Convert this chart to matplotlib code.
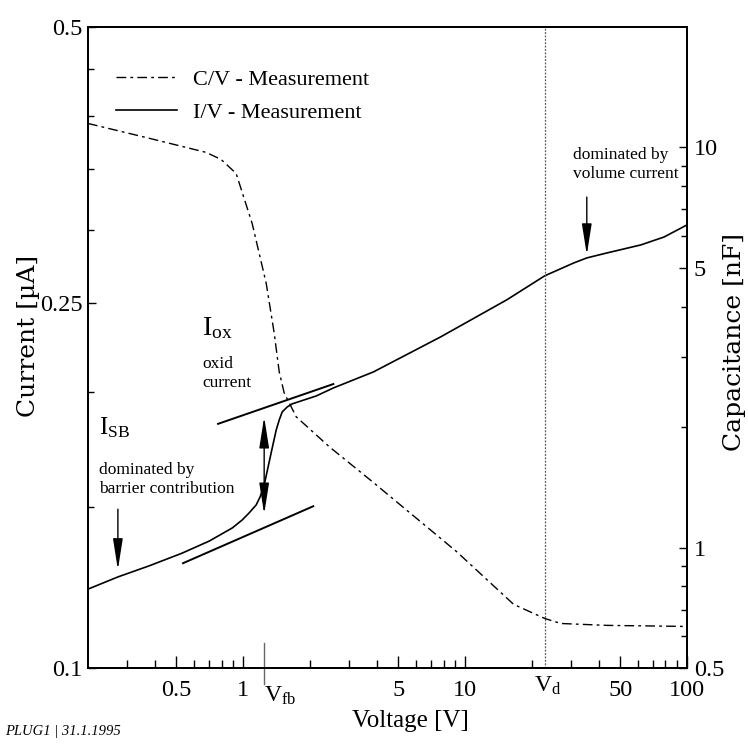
import matplotlib
matplotlib.use('Agg')
import matplotlib.pyplot as plt
from matplotlib.ticker import NullFormatter

plt.rcParams['font.family'] = ['Liberation Serif', 'DejaVu Serif']
plt.rcParams['mathtext.fontset'] = 'custom'
plt.rcParams['mathtext.rm'] = 'Liberation Serif'
plt.rcParams['mathtext.it'] = 'Liberation Serif:italic'

# I/V measurement, current in uA
iv_voltage = [0.2, 0.273, 0.376, 0.530, 0.702, 0.892, 0.990, 1.064, 1.145, 1.193,
              1.244, 1.310, 1.352, 1.409, 1.454, 1.500, 1.580, 1.664, 2.136, 2.549,
              3.863, 7.751, 15.40, 22.85, 30.90, 35.36, 43.5, 61.98, 78.8, 100.0]
iv_current = [0.1219, 0.1257, 0.1292, 0.1334, 0.1375, 0.1421, 0.1450, 0.1476, 0.1506, 0.1537,
              0.1583, 0.1677, 0.1737, 0.1817, 0.1864, 0.1902, 0.1926, 0.1941, 0.1980, 0.2020,
              0.2103, 0.2296, 0.2520, 0.2677, 0.2765, 0.2800, 0.2835, 0.2893, 0.2951, 0.3042]

# C/V measurement, capacitance in nF
cv_voltage = [0.2, 0.365, 0.681, 0.796, 0.930, 1.098, 1.270, 1.380, 1.454, 1.531,
              1.613, 1.735, 2.445, 3.823, 9.155, 16.56, 22.85, 26.99, 43.53, 100.0]
cv_capacitance = [11.48, 10.59, 9.72, 9.33, 8.61, 6.46, 4.58, 3.44, 2.75, 2.435,
                  2.299, 2.122, 1.786, 1.461, 0.977, 0.721, 0.665, 0.646, 0.639, 0.635]

# straight-line fits of the two current contributions
oxide_fit_voltage = [0.771, 2.549]
oxide_fit_current = [0.1846, 0.2040]
barrier_fit_voltage = [0.536, 2.070]
barrier_fit_current = [0.1301, 0.1501]

V_FB = 1.244   # flat band voltage
V_D = 23.0     # depletion voltage

x_major = [0.5, 1, 5, 10, 50, 100]
x_minor = [0.3, 0.4, 0.6, 0.7, 0.8, 0.9, 2, 3, 4, 6, 7, 8, 9, 20, 30, 40, 60, 70, 80, 90]
i_major = [0.1, 0.25, 0.5]
i_minor = [0.15, 0.2, 0.3, 0.35, 0.4, 0.45]
c_major = [0.5, 1, 5, 10]
c_minor = [0.6, 0.7, 0.8, 0.9, 2, 3, 4, 6, 7, 8, 9]

fig = plt.figure(figsize=(7.48, 7.44), dpi=100)
ax = fig.add_axes([88 / 748, 1 - 668 / 744, 599 / 748, 641 / 744])
ax2 = ax.twinx()

ax.set_xscale('log')
ax.set_yscale('log')
ax2.set_yscale('log')
ax.set_xlim(0.2, 100)
ax.set_ylim(0.1, 0.5)
ax2.set_ylim(0.5, 20)

iv_line, = ax.plot(iv_voltage, iv_current, color='black', lw=1.2)
cv_line, = ax2.plot(cv_voltage, cv_capacitance, color='black', lw=1.0,
                    linestyle=(0, (7, 3, 2, 3)))
ax.plot(oxide_fit_voltage, oxide_fit_current, color='black', lw=1.4)
ax.plot(barrier_fit_voltage, barrier_fit_current, color='black', lw=1.4)

ax.axvline(V_D, color='0.35', lw=0.9, linestyle=(0, (1.5, 1.2)))
ax.plot([V_FB, V_FB], [0.039, -0.025], color='0.4', lw=1.0,
        transform=ax.get_xaxis_transform(), clip_on=False)

# ticks
ax.set_xticks(x_major, [f'{v:g}' for v in x_major])
ax.set_xticks(x_minor, minor=True)
ax.set_yticks(i_major, [f'{v:g}' for v in i_major])
ax.set_yticks(i_minor, minor=True)
ax2.set_yticks(c_major, [f'{v:g}' for v in c_major])
ax2.set_yticks(c_minor, minor=True)
for axis in (ax.xaxis, ax.yaxis, ax2.yaxis):
    axis.set_minor_formatter(NullFormatter())

ax.tick_params(axis='both', which='both', direction='in', labelsize=17.5, width=1.0)
ax.tick_params(axis='x', which='major', length=9, pad=9)
ax.tick_params(axis='x', which='minor', length=5.5)
ax.tick_params(axis='y', which='major', length=6, pad=4)
ax.tick_params(axis='y', which='minor', length=4)
ax2.tick_params(axis='y', which='both', direction='in', labelsize=17.5, width=1.0)
ax2.tick_params(axis='y', which='major', length=6, pad=5)
ax2.tick_params(axis='y', which='minor', length=4)

for a in (ax, ax2):
    for s in a.spines.values():
        s.set_linewidth(1.4)

ax.set_xlabel('Voltage [V]', fontsize=18)
ax.xaxis.set_label_coords((410 - 88) / 599, -0.066)
ax.set_ylabel('Current [\u00b5A]', fontsize=18, family='DejaVu Serif', va='center')
ax.yaxis.set_label_coords(-0.100, 0.518)
ax2.set_ylabel('Capacitance [nF]', fontsize=18, family='DejaVu Serif', va='center')
ax2.yaxis.set_label_coords(1.0785, 0.509)

ax.text(V_FB, -0.053, r'$\mathrm{V_{fb}}$', fontsize=17, ha='left', va='baseline',
        transform=ax.get_xaxis_transform())
ax.text(V_D * 1.02, -0.037, r'$\mathrm{V_{d}}$', fontsize=17, ha='center', va='baseline',
        transform=ax.get_xaxis_transform())

# annotations
ax.text(0.2239, 0.1799, r'$\mathrm{I_{SB}}$', fontsize=18, va='baseline')
ax.text(0.2239, 0.1677, 'dominated by\nbarrier contribution', fontsize=12.5,
        va='top', linespacing=1.25)
ax.text(0.653, 0.2307, r'$\mathrm{I_{ox}}$', fontsize=20, va='baseline')
ax.text(0.653, 0.2189, 'oxid\ncurrent', fontsize=12.5, va='top', linespacing=1.25)
ax.text(30.57, 0.3698, 'dominated by\nvolume current', fontsize=12.5, va='top',
        linespacing=1.25)

head = dict(color='black', lw=1.0, mutation_scale=10, shrinkA=0, shrinkB=0)
ax.annotate('', xy=(0.2727, 0.128), xytext=(0.2727, 0.149),
            arrowprops=dict(arrowstyle='-|>,head_length=1.9,head_width=0.3', **head))
ax.annotate('', xy=(35.36, 0.2822), xytext=(35.36, 0.3262),
            arrowprops=dict(arrowstyle='-|>,head_length=1.9,head_width=0.3', **head))
ax.annotate('', xy=(V_FB, 0.1472), xytext=(V_FB, 0.1878),
            arrowprops=dict(arrowstyle='<|-|>,head_length=1.9,head_width=0.3', **head))

ax2.legend([cv_line, iv_line], ['C/V - Measurement', 'I/V - Measurement'],
           loc='upper left', bbox_to_anchor=(0.0467, 0.934), frameon=False,
           fontsize=16, handlelength=2.75, handletextpad=0.72, labelspacing=0.55,
           borderpad=0, borderaxespad=0)

fig.text(5 / 748, 1 - 735 / 744, 'PLUG1 | 31.1.1995', fontsize=10.5, style='italic',
         va='baseline')

fig.savefig('out.png', dpi=100)
